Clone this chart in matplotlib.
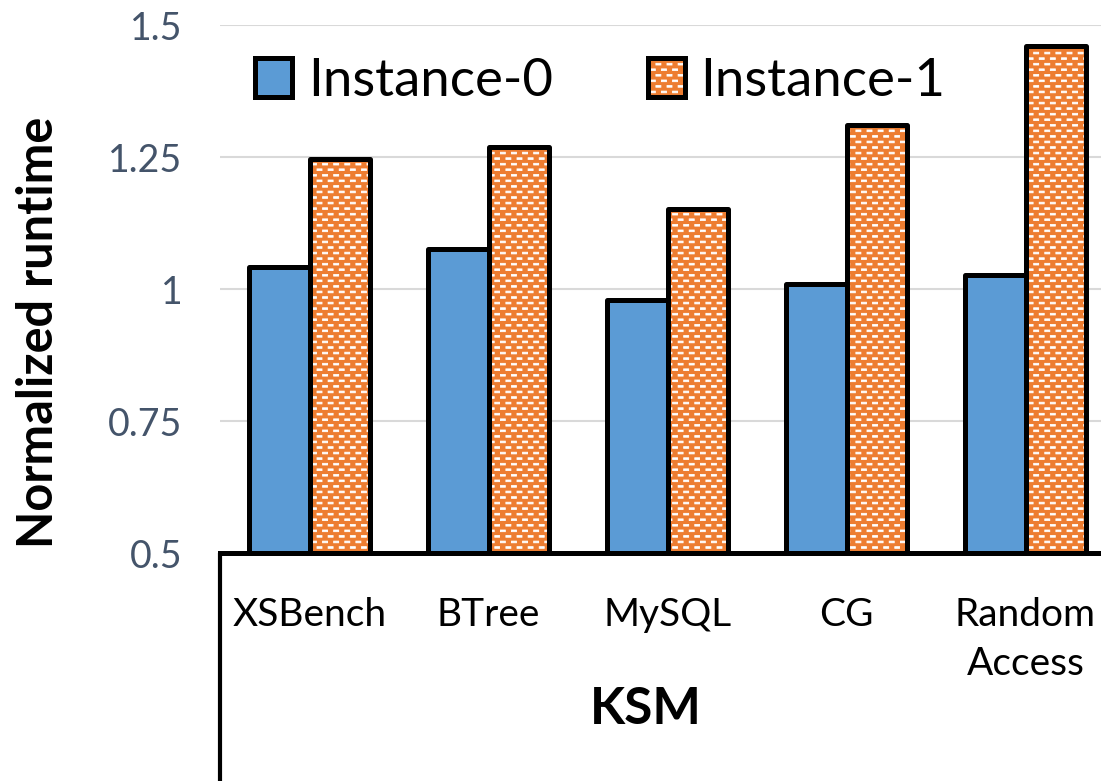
import numpy as np
import matplotlib
matplotlib.use('Agg')
import matplotlib.pyplot as plt
import matplotlib.hatch as mhatch
from matplotlib.patches import Patch
from matplotlib.path import Path

# data
benchmarks = ['XSBench', 'BTree', 'MySQL', 'CG', 'Random\nAccess']
instance0 = [1.042, 1.075, 0.980, 1.010, 1.027]
instance1 = [1.246, 1.268, 1.152, 1.310, 1.461]
series_names = ['Instance-0', 'Instance-1']
yticks = [0.5, 0.75, 1, 1.25, 1.5]
ytick_labels = ['0.5', '0.75', '1', '1.25', '1.5']
group_label = 'KSM'
ylabel = 'Normalized runtime'

blue = '#5B9BD5'
orange = '#ED7D31'


# staggered rows of little white dashes (excel "small brick" look),
# swapped in for the plain '-' hatch
class BrickDashes(mhatch.HatchPatternBase):
    def __init__(self, hatch, density):
        self.num_rows = hatch.count('-') * density
        self.num_cols = self.num_rows // 2
        self.num_vertices = self.num_rows * self.num_cols * 5

    def set_vertices_and_codes(self, vertices, codes):
        w = 0.45 / self.num_cols
        h = 0.3 / self.num_rows
        k = 0
        for i in range(self.num_rows):
            y = (i + 0.3) / self.num_rows
            shift = 0.5 if i % 2 else 0.0
            for j in range(self.num_cols):
                x = (j + shift + 0.03) / self.num_cols
                vertices[k:k + 5] = [[x, y], [x + w, y], [x + w, y + h], [x, y + h], [x, y]]
                codes[k:k + 5] = [Path.MOVETO, Path.LINETO, Path.LINETO,
                                  Path.LINETO, Path.CLOSEPOLY]
                k += 5


mhatch._hatch_types[0] = BrickDashes
plt.rcParams['hatch.linewidth'] = 0.6
plt.rcParams['font.family'] = ['Lato', 'DejaVu Sans']

W, H = 1101, 781
fig = plt.figure(figsize=(W / 100, H / 100), dpi=100)
ax = fig.add_axes([220 / W, 228 / H, 895 / W, 528 / H])

x = np.arange(len(benchmarks))
bw = 0.336
edge_lw = 3.6

# fills first, black outlines on top (so the hatch stays white)
ax.bar(x - bw / 2, instance0, bw, color=blue, linewidth=0, zorder=2)
ax.bar(x + bw / 2, instance1, bw, color=orange, edgecolor='white', linewidth=0,
       hatch='---', zorder=2)
ax.bar(x - bw / 2, instance0, bw, fill=False, edgecolor='black', linewidth=edge_lw,
       joinstyle='round', zorder=3)
ax.bar(x + bw / 2, instance1, bw, fill=False, edgecolor='black', linewidth=edge_lw,
       joinstyle='round', zorder=3)

ax.set_xlim(-0.5, len(benchmarks) - 0.5)
ax.set_ylim(0.5, 1.5)
ax.set_yticks(yticks)
ax.set_yticklabels(ytick_labels)
ax.set_xticks(x)
ax.set_xticklabels(benchmarks, linespacing=1.45)

ax.yaxis.grid(True, color='#D9D9D9', linewidth=1.5)
ax.set_axisbelow(True)
for s in ['top', 'right', 'left']:
    ax.spines[s].set_visible(False)
ax.spines['bottom'].set_linewidth(edge_lw)
ax.spines['bottom'].set_zorder(4)

ax.tick_params(axis='y', length=0, pad=27, labelsize=27, labelcolor='#44546A')
ax.tick_params(axis='x', length=0, pad=32, labelsize=28, labelcolor='black')

# divider line of the category box under the axis
ax.plot([0, 0], [0, -0.6], transform=ax.transAxes, color='black', lw=3,
        clip_on=False, solid_capstyle='butt')

fig.text(646 / W, 1 - 724 / H, group_label, fontsize=37, fontweight='bold',
         ha='center', va='baseline')
fig.text(53 / W, 1 - 332 / H, ylabel, fontsize=35, fontweight='bold', rotation=90,
         rotation_mode='anchor', ha='center', va='baseline')

handles = [Patch(facecolor=blue, edgecolor='black', linewidth=edge_lw),
           (Patch(facecolor=orange, edgecolor='white', linewidth=0, hatch='---'),
            Patch(fill=False, edgecolor='black', linewidth=edge_lw))]
fig.legend(handles, series_names, loc='upper left', bbox_to_anchor=(255 / W, 1 - 58 / H),
           ncol=2, frameon=False, fontsize=38, handlelength=0.7, handleheight=0.76,
           handletextpad=0.3, columnspacing=1.8, borderpad=0, borderaxespad=0)

fig.savefig('out.png', dpi=100)
